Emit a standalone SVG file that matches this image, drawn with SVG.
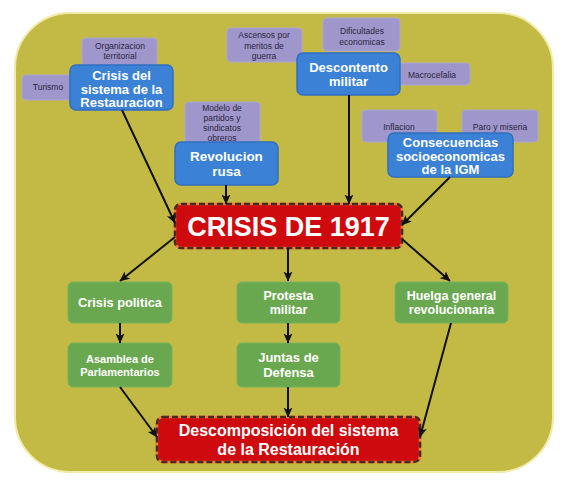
<svg xmlns="http://www.w3.org/2000/svg" width="563" height="480" viewBox="0 0 563 480">
<style>
text{font-family:"Liberation Sans",Arial,sans-serif;text-anchor:middle}
.p rect{fill:#9f96cb;stroke:#aea6d4;stroke-width:1}
.p text{fill:#2a2740;font-size:8.5px}
.b rect{fill:#3b82d6;stroke:#2f6fc0;stroke-width:1.5}
.b text{fill:#fff;font-size:13px;font-weight:bold}
.g rect{fill:#6aa84f;stroke:#78b25c;stroke-width:1}
.g text{fill:#fff;font-size:12.5px;font-weight:bold}
.r .o{fill:#cf0a0e;stroke:#f07a3a;stroke-width:2.5}
.r .d{fill:none;stroke:#4a2a1e;stroke-width:2.5;stroke-dasharray:6 3}
.r text{fill:#fff;font-weight:bold}
#edges line{stroke:#111;stroke-width:2;marker-end:url(#ah)}
</style>
<defs>
<marker id="ah" viewBox="0 0 10 10" refX="9.5" refY="5" markerWidth="10" markerHeight="10" markerUnits="userSpaceOnUse" orient="auto">
<path d="M0,0.5 L10,5 L0,9.5 L2.5,5 z" fill="#111"/>
</marker>
</defs>
<rect x="0" y="0" width="563" height="480" fill="#ffffff"/>
<rect x="15" y="13" width="538" height="459" rx="55" ry="55" fill="#c3ba46" stroke="#f1eaa8" stroke-width="2"/>

<g id="n-organizacion" class="p"><rect x="82" y="38" width="75" height="28" rx="4"/><text x="120" y="48.5">Organizacion</text><text x="120" y="59">territorial</text></g>
<g id="n-turismo" class="p"><rect x="22" y="75" width="52" height="25" rx="4"/><text x="48" y="90">Turismo</text></g>
<g id="n-modelo" class="p"><rect x="185" y="102" width="75" height="44" rx="4"/><text x="222" y="111">Modelo de</text><text x="222" y="121">partidos y</text><text x="222" y="131">sindicatos</text><text x="222" y="141">obreros</text></g>
<g id="n-ascensos" class="p"><rect x="227" y="28" width="75" height="34" rx="4"/><text x="264" y="38">Ascensos por</text><text x="264" y="48.5">meritos de</text><text x="264" y="59">guerra</text></g>
<g id="n-dificultades" class="p"><rect x="323" y="18" width="77" height="33" rx="4"/><text x="362" y="34">Dificultades</text><text x="362" y="45">economicas</text></g>
<g id="n-macrocefalia" class="p"><rect x="393" y="63" width="77" height="22" rx="4"/><text x="432" y="77.5">Macrocefalia</text></g>
<g id="n-inflacion" class="p"><rect x="362" y="110" width="75" height="32" rx="4"/><text x="399" y="129.5">Inflacion</text></g>
<g id="n-paro" class="p"><rect x="462" y="110" width="76" height="32" rx="4"/><text x="500" y="129.5">Paro y miseria</text></g>

<g id="n-crisis-sistema" class="b"><rect x="70" y="65" width="103" height="45" rx="6"/><text x="121.5" y="80">Crisis del</text><text x="121.5" y="93.5">sistema de la</text><text x="121.5" y="107">Restauracion</text></g>
<g id="n-revolucion" class="b"><rect x="175" y="142" width="103" height="43" rx="6"/><text x="226.5" y="161" style="font-size:13.5px">Revolucion</text><text x="226.5" y="176" style="font-size:13.5px">rusa</text></g>
<g id="n-descontento" class="b"><rect x="297" y="53" width="103" height="42" rx="6"/><text x="348.5" y="72">Descontento</text><text x="348.5" y="86">militar</text></g>
<g id="n-consecuencias" class="b"><rect x="388" y="133" width="125" height="44" rx="6"/><text x="450.5" y="147">Consecuencias</text><text x="450.5" y="160.5">socioeconomicas</text><text x="450.5" y="174">de la IGM</text></g>

<g id="n-crisis1917" class="r"><rect class="o" x="175" y="204" width="227" height="44" rx="6"/><rect class="d" x="175" y="204" width="227" height="44" rx="6"/><text x="288.5" y="235.5" style="font-size:27px">CRISIS DE 1917</text></g>

<g id="n-crisis-politica" class="g"><rect x="68" y="282" width="104" height="41" rx="5"/><text x="120" y="307" style="font-size:12.8px">Crisis politica</text></g>
<g id="n-protesta" class="g"><rect x="237" y="282" width="103" height="41" rx="5"/><text x="288.5" y="300">Protesta</text><text x="288.5" y="314">militar</text></g>
<g id="n-huelga" class="g"><rect x="395" y="282" width="113" height="41" rx="5"/><text x="451.5" y="300">Huelga general</text><text x="451.5" y="314">revolucionaria</text></g>
<g id="n-asamblea" class="g"><rect x="68" y="343" width="104" height="44" rx="5"/><text x="120" y="363" style="font-size:11px">Asamblea de</text><text x="120" y="376" style="font-size:11px">Parlamentarios</text></g>
<g id="n-juntas" class="g"><rect x="237" y="343" width="103" height="44" rx="5"/><text x="288.5" y="362" style="font-size:13px">Juntas de</text><text x="288.5" y="377" style="font-size:13px">Defensa</text></g>

<g id="n-descomposicion" class="r"><rect class="o" x="157" y="417" width="263" height="45" rx="6"/><rect class="d" x="157" y="417" width="263" height="45" rx="6"/><text x="288.5" y="436" style="font-size:16px">Descomposición del sistema</text><text x="288.5" y="454.5" style="font-size:16px">de la Restauración</text></g>

<g id="edges">
<line x1="122" y1="110" x2="175" y2="223"/>
<line x1="226" y1="185" x2="226" y2="204"/>
<line x1="349" y1="95" x2="349" y2="204"/>
<line x1="450" y1="177" x2="402" y2="225"/>
<line x1="175" y1="237" x2="120" y2="281"/>
<line x1="288" y1="248" x2="288" y2="281"/>
<line x1="402" y1="239" x2="450" y2="281"/>
<line x1="120" y1="323" x2="120" y2="343"/>
<line x1="288" y1="323" x2="288" y2="343"/>
<line x1="120" y1="387" x2="157" y2="437"/>
<line x1="288" y1="387" x2="288" y2="417"/>
<line x1="451" y1="323" x2="420" y2="437"/>
</g>
</svg>
